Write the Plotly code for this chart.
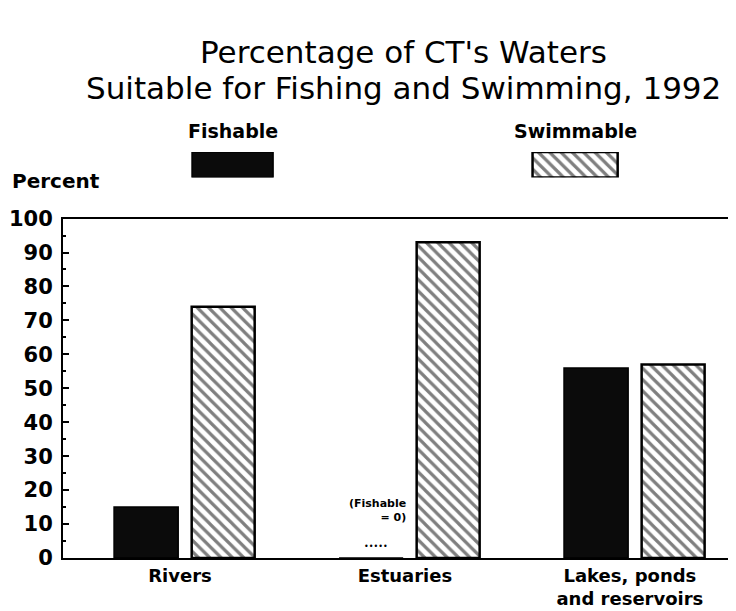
import plotly.graph_objects as go

# data
categories = ["Rivers", "Estuaries", "Lakes, ponds<br>and reservoirs"]
fishable = [15, 0, 56]
swimmable = [74, 93, 57]
y_ticks = list(range(0, 101, 10))

FONT = "DejaVu Sans"
H, W = 611, 736
PLOT_BOTTOM = 550  # px from top where the x axis sits

def py(px):
    # pixel (from top) -> paper y
    return (PLOT_BOTTOM - px) / PLOT_BOTTOM

hatch = dict(shape="\\", fgcolor="black", bgcolor="white", size=8, solidity=0.4)

fig = go.Figure()

fig.add_trace(go.Bar(
    x=categories, y=fishable, name="Fishable",
    width=0.285, offset=-0.315,
    marker=dict(color="#0b0b0b", line=dict(color="black", width=1.5)),
    showlegend=False,
))
fig.add_trace(go.Bar(
    x=categories, y=swimmable, name="Swimmable",
    width=0.28, offset=0.03,
    marker=dict(color="white", line=dict(color="black", width=2.5), pattern=hatch),
    showlegend=False,
))

# legend keys drawn as bars on a small helper axis above the plot
fig.add_trace(go.Bar(
    x=[0.249], y=[1], width=0.119, xaxis="x2", yaxis="y2",
    marker=dict(color="#0b0b0b", line=dict(color="black", width=1.5)),
    showlegend=False, hoverinfo="skip",
))
fig.add_trace(go.Bar(
    x=[0.752], y=[1], width=0.125, xaxis="x2", yaxis="y2",
    marker=dict(color="white", line=dict(color="black", width=2.5), pattern=hatch),
    showlegend=False, hoverinfo="skip",
))

label_font = dict(size=19, weight="bold", family=FONT, color="black")
title_font = dict(size=31, family=FONT, color="black")

fig.update_layout(
    width=W, height=H,
    margin=dict(l=55, r=0, t=0, b=H - PLOT_BOTTOM),
    paper_bgcolor="white", plot_bgcolor="white",
    barmode="overlay",
    font=dict(family=FONT, color="black"),
    xaxis=dict(
        range=[-0.542, 2.485], showline=True, linecolor="black", linewidth=2,
        mirror=True, ticks="", showgrid=False, zeroline=False,
        ticklabelshift=-5,
        tickfont=dict(family=FONT, size=18, color="black", weight="bold"),
        fixedrange=True,
    ),
    yaxis=dict(
        domain=[0, py(203)], range=[0, 100], tickvals=y_ticks,
        showline=True, linecolor="black", linewidth=2,
        ticks="inside", ticklen=6, tickwidth=2, tickcolor="black",
        minor=dict(dtick=5, ticks="inside", ticklen=3, tickcolor="black"),
        showgrid=False, zeroline=False, ticklabelstandoff=4,
        tickfont=dict(family=FONT, size=21, color="black", weight="bold"),
    ),
    xaxis2=dict(domain=[0, 1], range=[0, 1], anchor="y2", visible=False),
    yaxis2=dict(domain=[py(161), py(135)], range=[0, 1], anchor="x2", visible=False),
    annotations=[
        dict(text="Percentage of CT's Waters", x=0.5, y=py(33),
             xref="paper", yref="paper", xanchor="center", yanchor="middle",
             showarrow=False, font=title_font),
        dict(text="Suitable for Fishing and Swimming, 1992", x=0.5, y=py(70),
             xref="paper", yref="paper", xanchor="center", yanchor="middle",
             showarrow=False, font=title_font),
        dict(text="Fishable", x=0.249, y=py(113), xref="paper", yref="paper",
             xanchor="center", yanchor="middle", showarrow=False, font=label_font),
        dict(text="Swimmable", x=0.752, y=py(113), xref="paper", yref="paper",
             xanchor="center", yanchor="middle", showarrow=False, font=label_font),
        dict(text="Percent", x=-0.078, y=py(165), xref="paper", yref="paper",
             xanchor="left", yanchor="middle", showarrow=False,
             font=dict(label_font, size=20)),
        dict(text="(Fishable<br>= 0)", x=1, y=14, xref="x", yref="y",
             xanchor="right", yanchor="middle", align="right", xshift=-2,
             showarrow=False, font=dict(size=11, weight="bold")),
        dict(text="•••••", x=0.85, y=3.5, xref="x", yref="y",
             showarrow=False, font=dict(size=8)),
    ],
)

fig.write_html("out.html")
